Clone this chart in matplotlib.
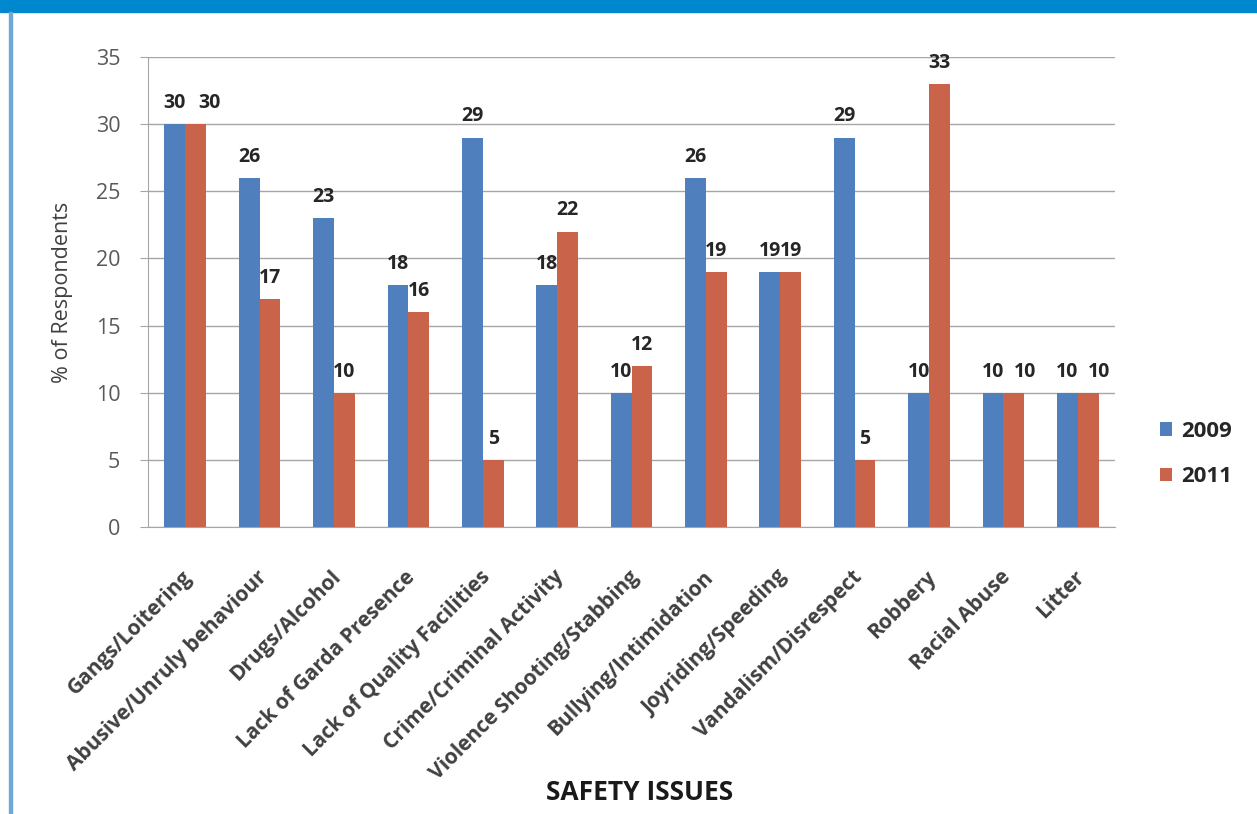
import matplotlib.pyplot as plt
import matplotlib.transforms as mtransforms
import numpy as np

issues = ["Gangs/Loitering", "Abusive/Unruly behaviour", "Drugs/Alcohol",
          "Lack of Garda Presence", "Lack of Quality Facilities",
          "Crime/Criminal Activity", "Violence Shooting/Stabbing",
          "Bullying/Intimidation", "Joyriding/Speeding", "Vandalism/Disrespect",
          "Robbery", "Racial Abuse", "Litter"]
values_2009 = [30, 26, 23, 18, 29, 18, 10, 26, 19, 29, 10, 10, 10]
values_2011 = [30, 17, 10, 16, 5, 22, 12, 19, 19, 5, 33, 10, 10]
# horizontal nudge (points) of the 2011 labels, as moved by hand in the source chart
nudge_2011 = [10, 0, 0, 0, 0, 0, 0, 0, 0, 0, 0, 8, 8]

plt.rcParams['font.family'] = ['Open Sans', 'DejaVu Sans']

fig = plt.figure(figsize=(12.57, 8.14), dpi=100)

# blue header strip and left border of the page
fig.patches.append(plt.Rectangle((0, 1 - 12 / 814), 1, 12 / 814, transform=fig.transFigure,
                                 color="#0088CF", zorder=0))
fig.patches.append(plt.Rectangle((9 / 1257, 0), 3 / 1257, 1 - 12 / 814, transform=fig.transFigure,
                                 color="#6FA8D2", zorder=0))

ax = fig.add_axes([148 / 1257, 1 - 527 / 814, (1115 - 148) / 1257, (527 - 57) / 814])

x = np.arange(len(issues))
w = 0.28
b1 = ax.bar(x - w / 2, values_2009, w, color="#4F7FBC", label="2009", zorder=3)
b2 = ax.bar(x + w / 2, values_2011, w, color="#C9634A", label="2011", zorder=3)

for bars, nudges in ((b1, [0] * len(issues)), (b2, nudge_2011)):
    for r, dx in zip(bars, nudges):
        ax.annotate(f"{int(r.get_height())}", (r.get_x() + r.get_width() / 2, r.get_height()),
                    xytext=(dx, 8), textcoords="offset points", ha="center", va="bottom",
                    fontsize=14, fontweight="bold", color="#262626")

ax.set_xlim(-0.5, len(issues) - 0.5)
ax.set_ylim(0, 35)
ax.set_yticks(range(0, 36, 5))
ax.yaxis.grid(True, color="#A6A6A6", linewidth=1)
ax.set_axisbelow(True)
for s in ("top", "right"):
    ax.spines[s].set_visible(False)
for s in ("left", "bottom"):
    ax.spines[s].set_color("#A6A6A6")
ax.tick_params(axis="y", colors="#A6A6A6", labelcolor="#595959", labelsize=15.5, length=6, pad=14)
ax.tick_params(axis="x", length=0)

ax.set_xticks(x)
ax.set_xticklabels(issues, rotation=45, ha="right", va="center", rotation_mode="anchor",
                   fontsize=15, fontweight="bold", color="#404040")
shift = mtransforms.ScaledTranslation(4 / 100, -42 / 100, fig.dpi_scale_trans)
for lbl in ax.get_xticklabels():
    lbl.set_transform(lbl.get_transform() + shift)

ax.set_ylabel("% of Respondents", fontsize=15.5, color="#404040", labelpad=16)
fig.text(640 / 1257, 1 - 793 / 814, "SAFETY ISSUES", ha="center", va="center",
         fontsize=19, fontweight="bold", color="#1a1a1a")

leg = fig.legend(loc="center left", bbox_to_anchor=(1160 / 1257, 1 - 454 / 814), frameon=False,
                 prop={"size": 16, "weight": "bold"}, handlelength=0.55, handleheight=0.55,
                 labelspacing=1.1, handletextpad=0.4, borderaxespad=0, borderpad=0)
for t in leg.get_texts():
    t.set_color("#262626")

fig.savefig("out.png", dpi=100)
